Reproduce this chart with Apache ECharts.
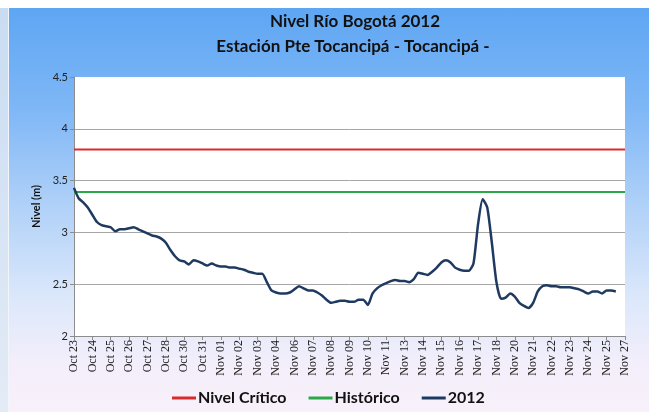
<!DOCTYPE html>
<html>
<head>
<meta charset="utf-8">
<script src="https://cdn.jsdelivr.net/npm/echarts@6/dist/echarts.min.js"></script>
<style>
  html, body { margin: 0; padding: 0; width: 649px; height: 412px; overflow: hidden; background: #ffffff; }
  #side { position: absolute; left: 0; top: 8px; width: 9px; height: 404px;
          background: linear-gradient(to bottom, #c9dcf2, #e3ebf6); border-right: 1px solid #f2f6fb; box-sizing: border-box; }
  #chart { position: absolute; left: 9px; top: 8px; width: 640px; height: 404px;
           background: linear-gradient(to bottom, #5ea6f3 0%, #7fb7f6 25%, #b2d2f8 50%, #dce8fb 72%, #f3eefa 88%, #f8f1fa 100%); }
</style>
</head>
<body>
<div id="side"></div>
<div id="chart"></div>
<script>
// Tick labels of the date axis (one every 4 samples)
const tickLabels = ['Oct 23','Oct 24','Oct 25','Oct 26','Oct 27','Oct 28','Oct 30','Oct 31',
  'Nov 01','Nov 02','Nov 03','Nov 04','Nov 06','Nov 07','Nov 08','Nov 09','Nov 10','Nov 11',
  'Nov 13','Nov 14','Nov 15','Nov 16','Nov 17','Nov 18','Nov 20','Nov 21','Nov 22','Nov 23',
  'Nov 24','Nov 25','Nov 27'];
const samplesPerTick = 4;

// River level 2012 (m)
const nivel2012 = [
  3.43, 3.33, 3.29, 3.24, 3.17, 3.10, 3.07, 3.06, 3.05, 3.01,
  3.03, 3.03, 3.04, 3.05, 3.03, 3.01, 2.99, 2.97, 2.96, 2.94,
  2.90, 2.83, 2.77, 2.73, 2.72, 2.69, 2.73, 2.72, 2.70, 2.68,
  2.70, 2.68, 2.67, 2.67, 2.66, 2.66, 2.65, 2.64, 2.62, 2.61,
  2.60, 2.60, 2.52, 2.44, 2.42, 2.41, 2.41, 2.42, 2.45, 2.48,
  2.46, 2.44, 2.44, 2.42, 2.39, 2.35, 2.32, 2.33, 2.34, 2.34,
  2.33, 2.33, 2.35, 2.35, 2.30, 2.41, 2.46, 2.49, 2.51, 2.53,
  2.54, 2.53, 2.53, 2.52, 2.55, 2.61, 2.60, 2.59, 2.62, 2.66,
  2.71, 2.73, 2.71, 2.66, 2.64, 2.63, 2.63, 2.70, 3.08, 3.32,
  3.24, 2.90, 2.52, 2.36, 2.37, 2.41, 2.38, 2.32, 2.29, 2.27,
  2.32, 2.43, 2.48, 2.49, 2.48, 2.48, 2.47, 2.47, 2.47, 2.46,
  2.45, 2.43, 2.41, 2.43, 2.43, 2.41, 2.44, 2.44, 2.43
];
// Reference levels (m)
const nivelCritico = 3.80;
const historico = 3.39;

const yMin = 2, yMax = 4.5, yStep = 0.5;

const xMax = (tickLabels.length - 1) * samplesPerTick;
const lineData = nivel2012.map((v, i) => [i, v]);

const chart = echarts.init(document.getElementById('chart'), null, { renderer: 'canvas' });
const titleFont = 'Lato, "Open Sans", sans-serif';

chart.setOption({
  animation: false,
  graphic: [
    { type: 'text', x: 346, y: 14, style: { text: 'Nivel Río Bogotá 2012', align: 'center', verticalAlign: 'middle',
      fontFamily: titleFont, fontWeight: 'bold', fontSize: 17, fill: '#111' } },
    { type: 'text', x: 344, y: 39, style: { text: 'Estación Pte Tocancipá - Tocancipá -', align: 'center', verticalAlign: 'middle',
      fontFamily: titleFont, fontWeight: 'bold', fontSize: 17, fill: '#111' } }
  ],
  legend: {
    left: 158, top: 377,
    itemWidth: 24, itemHeight: 3, itemGap: 22,
    icon: 'rect',
    textStyle: { fontFamily: titleFont, fontWeight: 'bold', fontSize: 16, color: '#111', padding: [0, 0, 0, -3] },
    data: ['Nivel Crítico', 'Histórico', '2012']
  },
  grid: { left: 65, right: 24, top: 69, bottom: 76, show: true, backgroundColor: '#ffffff', borderWidth: 0 },
  xAxis: {
    type: 'value', min: 0, max: xMax, interval: samplesPerTick,
    axisLine: { show: true, lineStyle: { color: '#8c8c8c' } },
    axisTick: { show: true, length: 4, lineStyle: { color: '#8c8c8c' } },
    splitLine: { show: false },
    axisLabel: {
      rotate: 90, fontSize: 12, fontFamily: '"Liberation Serif", "DejaVu Serif", serif', color: '#222', margin: 4,
      showMinLabel: true, showMaxLabel: true,
      formatter: v => tickLabels[Math.round(v / samplesPerTick)] || ''
    }
  },
  yAxis: {
    type: 'value', min: yMin, max: yMax, interval: yStep,
    name: 'Nivel (m)', nameLocation: 'middle', nameGap: 29, nameRotate: 90,
    nameTextStyle: { fontFamily: titleFont, fontWeight: 'bold', fontSize: 11, color: '#111' },
    axisLine: { show: true, lineStyle: { color: '#8c8c8c' } },
    axisTick: { show: true, length: 4, lineStyle: { color: '#8c8c8c' } },
    splitLine: { show: true, showMaxLine: false, lineStyle: { color: '#a6a6a6', width: 1 } },
    axisLabel: { fontSize: 11, fontFamily: titleFont, color: '#222', margin: 6, formatter: v => String(v) }
  },
  series: [
    { name: 'Nivel Crítico', type: 'line', symbol: 'none', color: '#D92B2B',
      lineStyle: { width: 2, color: '#D92B2B' }, data: [[0, nivelCritico], [xMax, nivelCritico]], z: 2 },
    { name: 'Histórico', type: 'line', symbol: 'none', color: '#2BA84A',
      lineStyle: { width: 2, color: '#2BA84A' }, data: [[0, historico], [xMax, historico]], z: 2 },
    { name: '2012', type: 'line', symbol: 'none', color: '#1F3A60', smooth: 0.2,
      lineStyle: { width: 2.5, color: '#1F3A60' }, data: lineData, z: 3 }
  ]
});
</script>
</body>
</html>
